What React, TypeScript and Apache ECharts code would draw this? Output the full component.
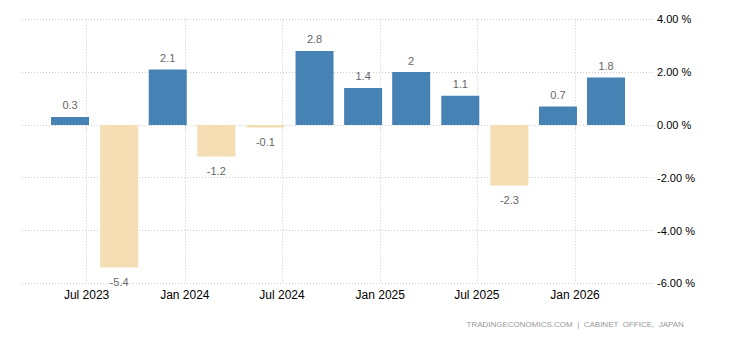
import React, { useEffect, useRef } from "react";
import * as echarts from "echarts";

// Quarterly GDP growth annualized (%), Japan
const periods = [
  "2023-05-31", "2023-08-31", "2023-11-30", "2024-02-29",
  "2024-05-31", "2024-08-31", "2024-11-30", "2025-02-28",
  "2025-05-31", "2025-08-31", "2025-11-30", "2026-02-28",
];
const values = [0.3, -5.4, 2.1, -1.2, -0.1, 2.8, 1.4, 2, 1.1, -2.3, 0.7, 1.8];

const tickDates = ["2023-07-01", "2024-01-01", "2024-07-01", "2025-01-01", "2025-07-01", "2026-01-01"];
const tickLabels = ["Jul 2023", "Jan 2024", "Jul 2024", "Jan 2025", "Jul 2025", "Jan 2026"];

const axisMin = "2023-03-02";
const axisMax = "2026-05-27";
const yTicks = { min: -6, max: 4, interval: 2 };

const POS = "#4682B4";
const NEG = "#F5DEB3";
const FONT = "'Liberation Sans', Arial, sans-serif";

const toTs = (s: string) => {
  const [y, m, d] = s.split("-").map(Number);
  return Date.UTC(y, m - 1, d);
};

export default function App() {
  const ref = useRef<HTMLDivElement>(null);
  useEffect(() => {
    if (!ref.current) return;
    const chart = echarts.init(ref.current, undefined, { renderer: "svg" });
    const tickTs = tickDates.map(toTs);
    chart.setOption({
      animation: false,
      backgroundColor: "#ffffff",
      textStyle: { fontFamily: FONT },
      grid: { left: 22, right: 77, top: 19.3, bottom: 56.7, containLabel: false },
      xAxis: {
        type: "value",
        min: toTs(axisMin),
        max: toTs(axisMax),
        axisLine: { show: false },
        axisTick: {
          show: true,
          length: 4,
          customValues: tickTs,
          lineStyle: { color: "#cccccc", type: [1, 2] },
        },
        axisLabel: {
          customValues: tickTs,
          color: "#000000",
          fontSize: 12,
          margin: 6,
          fontFamily: FONT,
          formatter: (v: number) => {
            const i = tickTs.indexOf(v);
            return i >= 0 ? tickLabels[i] : "";
          },
        },
        splitLine: { show: true, lineStyle: { color: "#cccccc", type: [1, 2] } },
      },
      yAxis: {
        type: "value",
        position: "right",
        min: yTicks.min,
        max: yTicks.max,
        interval: yTicks.interval,
        axisLine: { show: false },
        axisTick: { show: false },
        axisLabel: {
          color: "#000000",
          fontSize: 11,
          margin: 4,
          fontFamily: FONT,
          formatter: (v: number) => v.toFixed(2) + " %",
        },
        splitLine: { show: true, lineStyle: { color: "#cccccc", type: [1, 2] } },
      },
      series: [
        {
          type: "bar",
          barWidth: 38,
          data: periods.map((p, i) => {
            const v = values[i];
            return {
              value: [toTs(p), v],
              itemStyle: { color: v >= 0 ? POS : NEG },
              label: {
                show: true,
                position: v >= 0 ? "top" : "bottom",
                distance: v >= 0 ? 6 : 9,
                color: "#666666",
                fontSize: 11,
                fontFamily: FONT,
                formatter: String(v),
              },
            };
          }),
        },
      ],
      graphic: [
        {
          type: "text",
          right: 46,
          top: 320,
          style: {
            text: "TRADINGECONOMICS.COM  |  CABINET  OFFICE,  JAPAN",
            fill: "#999999",
            font: `8px ${FONT}`,
          },
        },
      ],
    });
    return () => chart.dispose();
  }, []);
  return (
    <div
      ref={ref}
      style={{ position: "absolute", left: 0, top: 0, width: 730, height: 340 }}
    />
  );
}
